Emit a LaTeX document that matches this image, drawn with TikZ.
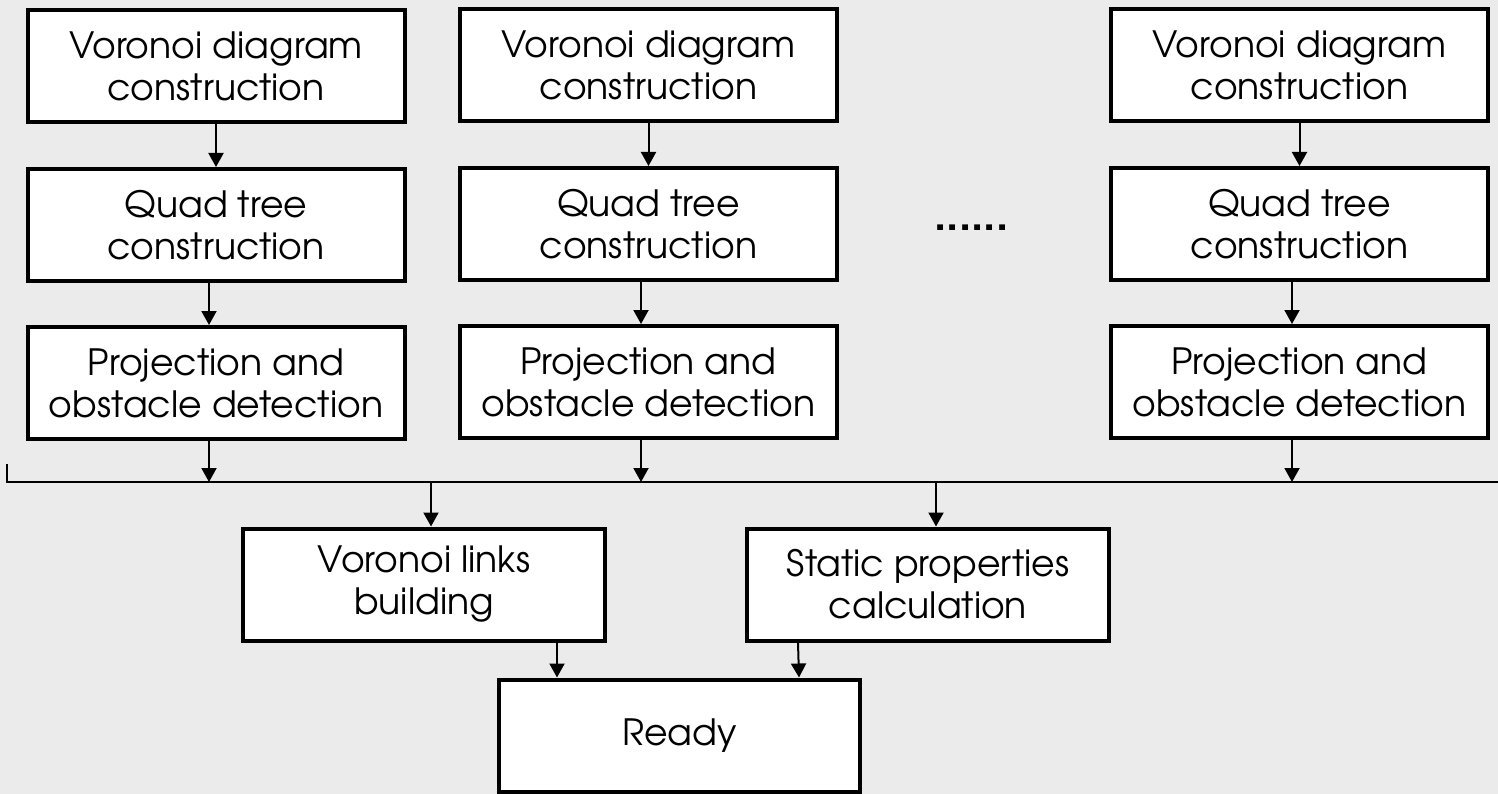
\documentclass[tikz,border=0pt]{standalone}
\usepackage{fontspec}
\setmainfont{TeX Gyre Adventor}
\usetikzlibrary{arrows.meta}
\definecolor{bg}{HTML}{EBEBEB}
\tikzset{
  stepbox/.style={draw=black, fill=white, line width=4pt, inner sep=0pt,
    align=center, font=\fontsize{36.2}{42}\selectfont,
    minimum width=#1, minimum height=112pt},
  stepbox/.default=377pt,
  arr/.style={line width=2pt, -{Triangle[width=15pt,length=14pt]}},
  busline/.style={line width=2pt},
}
\begin{document}
\begin{tikzpicture}[x=1pt,y=-1pt]
\fill[bg] (0,0) rectangle (1498,794);
\useasboundingbox (0,0) rectangle (1498,794);
% column 1
\node[stepbox] (v1) at (216,66) {Voronoi diagram\\construction};
\node[stepbox] (q1) at (216,225) {Quad tree\\construction};
\node[stepbox] (p1) at (216,383) {Projection and\\obstacle detection};
% column 2
\node[stepbox] (v2) at (648.5,65.5) {Voronoi diagram\\construction};
\node[stepbox] (q2) at (648.5,224) {Quad tree\\construction};
\node[stepbox] (p2) at (648.5,382) {Projection and\\obstacle detection};
% column 3
\node[stepbox] (v3) at (1299.5,65.5) {Voronoi diagram\\construction};
\node[stepbox] (q3) at (1299.5,224) {Quad tree\\construction};
\node[stepbox] (p3) at (1299.5,382) {Projection and\\obstacle detection};
% ellipsis
\node[font=\fontsize{44}{44}\selectfont\bfseries, inner sep=0pt] (dots) at (971.5,228) {......};
% lower boxes
\node[stepbox=362pt] (links) at (424,584.5) {Voronoi links\\building};
\node[stepbox=362pt] (static) at (928,584.5) {Static properties\\calculation};
\node[stepbox=361pt] (ready) at (679.5,735.5) {Ready};
% bus
\coordinate (busT) at (6.5,464);
\coordinate (busL) at (6.5,482);
\coordinate (busR) at (1498,482);
\draw[busline] (busT) -- (busL) -- (busR);
% column arrows
\draw[arr] (v1.south) -- (q1.north);
\draw[arr] ([xshift=-7pt]q1.south) -- ([xshift=-7pt]p1.north);
\draw[arr] ([xshift=-7pt]p1.south) -- ([xshift=-7pt]p1.south |- busL);
\draw[arr] (v2.south) -- (q2.north);
\draw[arr] ([xshift=-7.5pt]q2.south) -- ([xshift=-7.5pt]p2.north);
\draw[arr] ([xshift=-7.5pt]p2.south) -- ([xshift=-7.5pt]p2.south |- busL);
\draw[arr] (v3.south) -- (q3.north);
\draw[arr] ([xshift=-7.5pt]q3.south) -- ([xshift=-7.5pt]q3.south |- p3.north);
\draw[arr] ([xshift=-7.5pt]p3.south) -- ([xshift=-7.5pt]p3.south |- busL);
% bus to lower boxes
\draw[arr] ([xshift=7pt]links.north |- busL) -- ([xshift=7pt]links.north);
\draw[arr] ([xshift=8pt]static.north |- busL) -- ([xshift=8pt]static.north);
% to ready
\draw[arr] ([xshift=133pt]links.south) -- ([xshift=-122.5pt]ready.north);
\draw[arr] ([xshift=-130pt]static.south) -- ([xshift=119.5pt]ready.north);
\end{tikzpicture}
\end{document}
